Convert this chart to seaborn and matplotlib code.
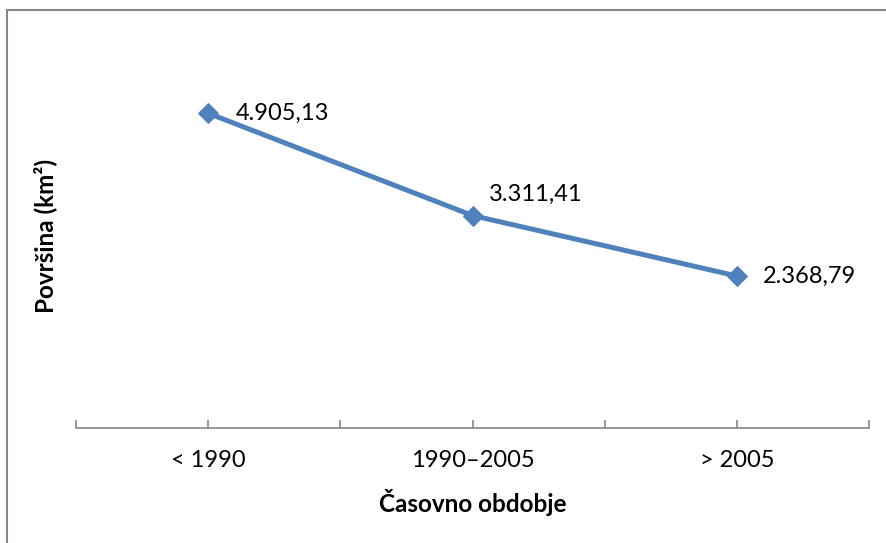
import matplotlib
matplotlib.use("Agg")
import matplotlib.pyplot as plt
from matplotlib.patches import Rectangle
from matplotlib.ticker import FixedLocator
import seaborn as sns
import pandas as pd

# Data
periods = ["< 1990", "1990–2005", "> 2005"]
area_km2 = [4905.13, 3311.41, 2368.79]
# offsets (points) of each value label from its marker
label_dx = [20, 12, 19]
label_dy = [0, 15, 0]

sns.set_theme(style="white")
plt.rcParams["font.family"] = ["Lato", "DejaVu Sans"]

LINE = "#4F81BD"
AXIS = "#868686"
FS = 17
FS_BOLD = 17.5

fig = plt.figure(figsize=(8.86, 5.43), dpi=100)
ax = fig.add_axes([76 / 886, 1 - 428 / 543, (869 - 76) / 886, (428 - 43) / 543])

df = pd.DataFrame({"period": periods, "area": area_km2})
sns.lineplot(data=df, x="period", y="area", ax=ax, sort=False,
             color=LINE, linewidth=3.6, marker="D", markersize=10.5,
             markeredgecolor=LINE, markerfacecolor=LINE)

ax.set_xlim(-0.5, 2.5)
ax.set_ylim(0, 6000)
ax.set_yticks([])

for s in ("left", "top", "right"):
    ax.spines[s].set_visible(False)
ax.spines["bottom"].set_color(AXIS)
ax.spines["bottom"].set_linewidth(1.2)

ax.set_xticks(range(len(periods)))
ax.set_xticklabels(periods, fontsize=FS, color="black")
ax.xaxis.set_minor_locator(FixedLocator([-0.5, 0.5, 1.5, 2.5]))
ax.tick_params(axis="x", which="both", direction="in", length=5.5,
               width=1.2, color=AXIS, bottom=True, pad=16)

# value labels
for i, (v, dx, dy) in enumerate(zip(area_km2, label_dx, label_dy)):
    txt = f"{v:,.2f}".replace(",", " ").replace(".", ",").replace(" ", ".")
    ax.annotate(txt, (i, v), xytext=(dx, dy), textcoords="offset points",
                ha="left", va="center", fontsize=FS, color="black")

ax.set_xlabel("Časovno obdobje", fontsize=FS_BOLD, fontweight="bold",
              color="black", va="center")
ax.xaxis.set_label_coords(0.5, -(503 - 428) / 385)
ax.set_ylabel("Površina (km²)", fontsize=FS_BOLD, fontweight="bold",
              color="black", va="center")
ax.yaxis.set_label_coords((45 - 76) / 793, 0.5)

# chart frame
fig.patches.append(Rectangle((6.5 / 886, -0.1), 1.2, 1 - 10.5 / 543 + 0.1,
                             transform=fig.transFigure, fill=False,
                             edgecolor=AXIS, linewidth=1.5, clip_on=False))

fig.savefig("out.png", dpi=100, facecolor="white")
